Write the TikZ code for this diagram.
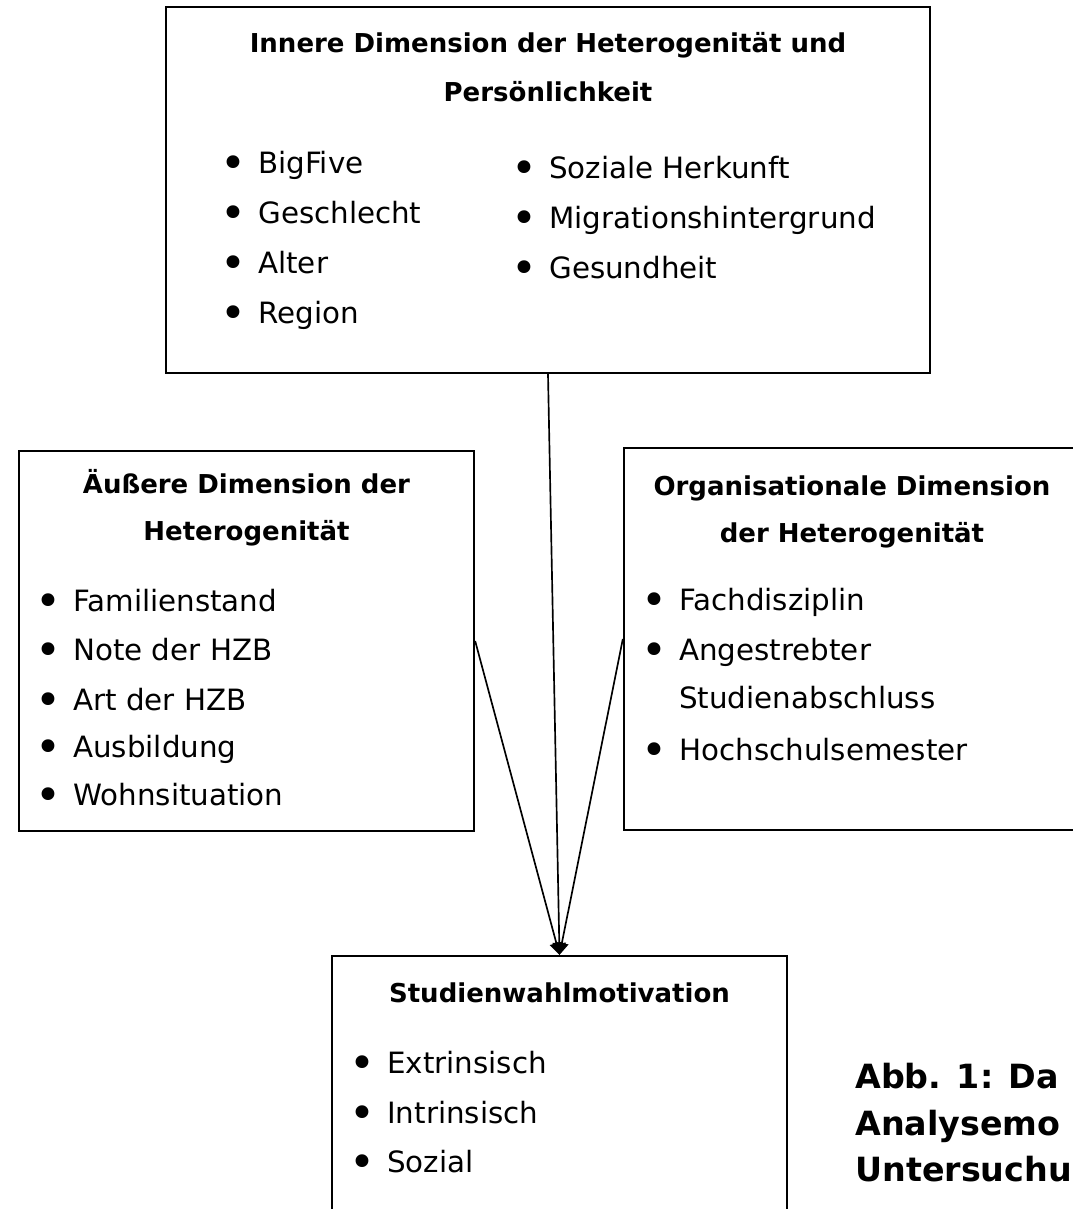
\documentclass[tikz,border=0pt]{standalone}
\usepackage{fontspec}
\usepackage{graphicx}
\setmainfont{DejaVu Sans}
\usetikzlibrary{arrows.meta}

\tikzset{
  box/.style={draw, line width=1.75, inner sep=0},
  head/.style={font=\fontsize{19.5}{23}\selectfont\bfseries, anchor=base, inner sep=0},
  item/.style={font=\fontsize{22}{26}\selectfont, anchor=base west, inner sep=0},
  capt/.style={font=\fontsize{25}{30}\selectfont\bfseries, anchor=base west, inner sep=0},
  link/.style={line width=1.25, -{Triangle[length=9pt,width=10pt]}}
}
\newcommand{\bul}{\makebox[28.5pt][l]{\raisebox{-0.2em}{\scalebox{1.5}{•}}}}

\begin{document}
\begin{tikzpicture}[x=0.75pt,y=0.75pt,yscale=-1,xscale=1]
\clip (0,0) rectangle (1073,1209);
\fill[white] (0,0) rectangle (1073,1209);

%Shape: Rectangle [inner]
\node[box, minimum width=573pt, minimum height=274.5pt] (inner) at (548,190) {};
%Shape: Rectangle [outer]
\node[box, minimum width=341.25pt, minimum height=285pt] (outer) at (246.5,641) {};
%Shape: Rectangle [org]
\node[box, minimum width=342pt, minimum height=286.5pt] (org) at (852,639) {};
%Shape: Rectangle [motiv]
\node[box, minimum width=341.25pt, minimum height=213pt] (motiv) at (559.5,1098) {};

%Straight Lines
\draw[link] (inner.south) -- (motiv.north);
\draw[link] (outer.east) -- (motiv.north);
\draw[link] (org.west) -- (motiv.north);

% Text Node
\node[head] (innerA) at (548,53) {Innere Dimension der Heterogenität und};
\node[head] (innerB) at (548,102) {Persönlichkeit};
\node[item] (bigfive) at (220,173) {\bul BigFive};
\node[item] (geschlecht) at (220,223) {\bul Geschlecht};
\node[item] (alter) at (220,273) {\bul Alter};
\node[item] (region) at (220,323) {\bul Region};
\node[item] (herkunft) at (511,178) {\bul Soziale Herkunft};
\node[item] (migration) at (511,228) {\bul Migrationshintergrund};
\node[item] (gesundheit) at (511,278) {\bul Gesundheit};

% Text Node
\node[head] (outerA) at (246.5,493) {Äußere Dimension der};
\node[head] (outerB) at (246.5,540) {Heterogenität};
\node[item] (familie) at (35,611) {\bul Familienstand};
\node[item] (note) at (35,660) {\bul Note der HZB};
\node[item] (art) at (35,710) {\bul Art der HZB};
\node[item] (ausbildung) at (35,757) {\bul Ausbildung};
\node[item] (wohnen) at (35,805) {\bul Wohnsituation};

% Text Node
\node[head] (orgA) at (852,495) {Organisationale Dimension};
\node[head] (orgB) at (852,542) {der Heterogenität};
\node[item] (fach) at (641,610) {\bul Fachdisziplin};
\node[item] (abschlussA) at (641,660) {\bul Angestrebter};
\node[item] (abschlussB) at (641,708) {\hspace{28.5pt}Studienabschluss};
\node[item] (semester) at (641,760) {\bul Hochschulsemester};

% Text Node
\node[head] (motivA) at (559.5,1002) {Studienwahlmotivation};
\node[item] (extr) at (349,1073) {\bul Extrinsisch};
\node[item] (intr) at (349,1123) {\bul Intrinsisch};
\node[item] (sozial) at (349,1172) {\bul Sozial};

% Text Node
\node[capt] (captA) at (855,1088) {Abb. 1: Da};
\node[capt] (captB) at (855,1135) {Analysemo};
\node[capt] (captC) at (855,1181) {Untersuchu};

\end{tikzpicture}
\end{document}
